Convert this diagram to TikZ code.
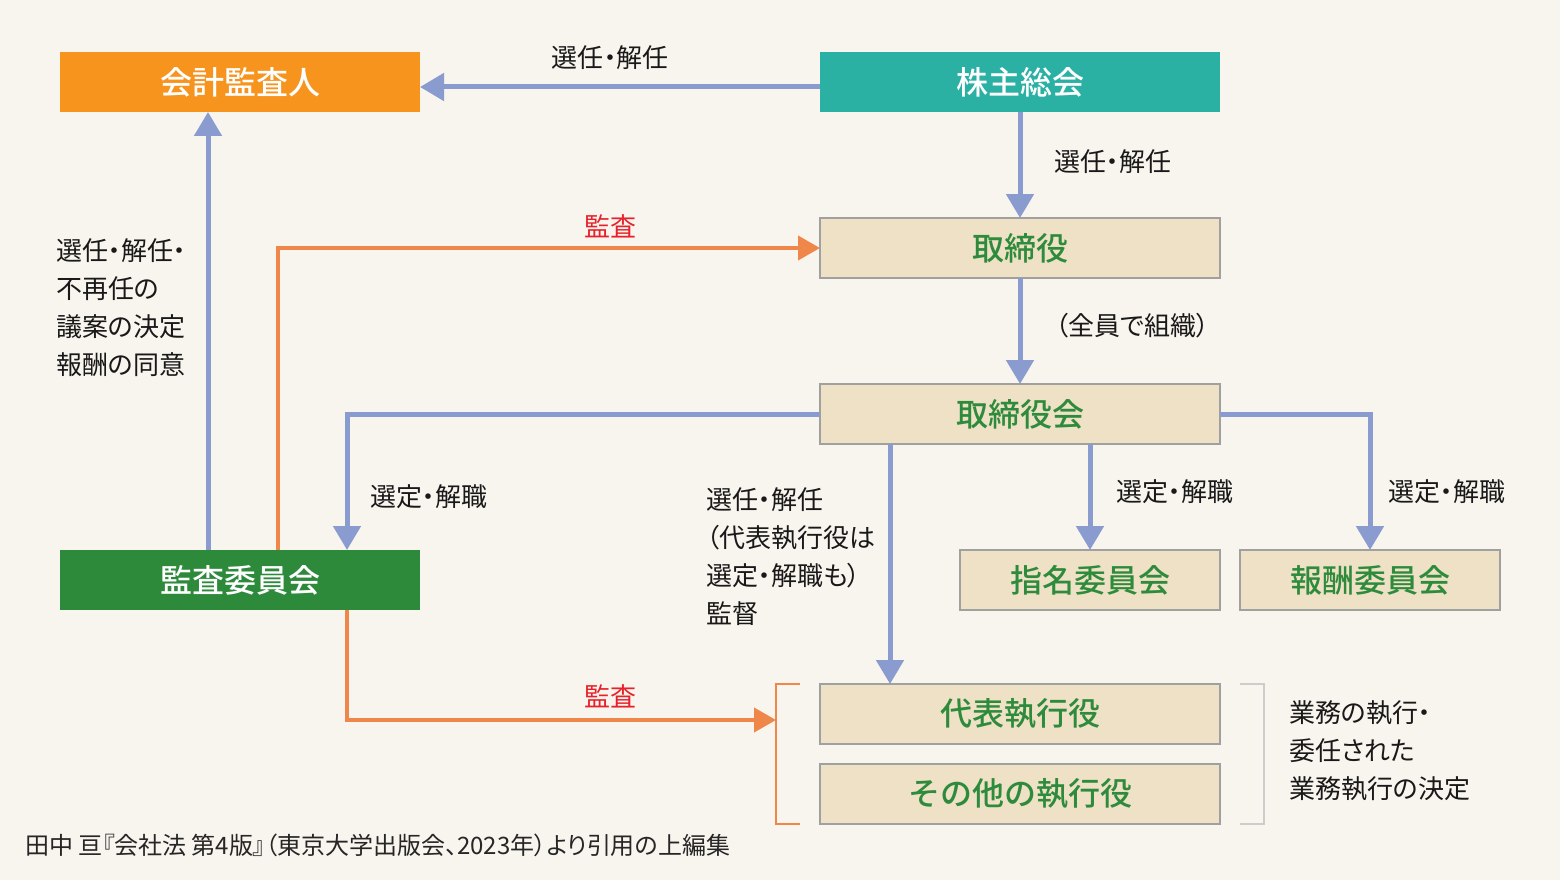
\documentclass[tikz,border=0pt]{standalone}
\usepackage{fontspec}
\setmainfont{Noto Sans CJK JP}
\newfontfamily\lblfont{Noto Sans CJK JP}[RawFeature=+palt]
\newfontfamily\boxfont{Noto Sans CJK JP Medium}
\usetikzlibrary{arrows.meta,positioning}
\definecolor{bgcol}{HTML}{F8F4EE}
\definecolor{orangebox}{HTML}{F7941E}
\definecolor{tealbox}{HTML}{2BB0A4}
\definecolor{greenbox}{HTML}{2C8A3A}
\definecolor{beigebox}{HTML}{EFE1C6}
\definecolor{boxline}{HTML}{A0A0A0}
\definecolor{greentext}{HTML}{2E8B3C}
\definecolor{bluearrow}{HTML}{8A9BD0}
\definecolor{orangearrow}{HTML}{F0874A}
\definecolor{redtext}{HTML}{E8202A}
\definecolor{graybracket}{HTML}{CCCCCC}
\tikzset{
    solidbox/.style={minimum height=60pt, inner sep=0pt, outer sep=0pt, text=white,
        font=\boxfont\fontsize{32}{32}\selectfont},
    paperbox/.style={minimum height=60pt, inner sep=0pt, outer sep=0pt, fill=beigebox,
        draw=boxline, line width=2pt, text=greentext,
        font=\boxfont\fontsize{32}{32}\selectfont},
    bluearr/.style={draw=bluearrow, line width=5pt,
        -{Triangle[length=24pt, width=27pt]}},
    orangearr/.style={draw=orangearrow, line width=4pt,
        -{Triangle[length=22pt, width=24pt]}},
    lbl/.style={inner sep=0pt, text=black!90, font=\lblfont\fontsize{26}{38}\selectfont},
    redlbl/.style={inner sep=0pt, text=redtext, font=\lblfont\fontsize{26}{38}\selectfont}
}
\begin{document}
\begin{tikzpicture}[x=1pt, y=-1pt]
    \path[use as bounding box, fill=bgcol] (0,0) rectangle (1560,880);
    \node[solidbox, fill=orangebox, minimum width=360pt] (kaikei) at (240,82) {会計監査人};
    \node[solidbox, fill=tealbox, minimum width=400pt] (kabunushi) at (1020,82) {株主総会};
    \node[paperbox, minimum width=400pt, below = 106pt of kabunushi] (torishimari) {取締役};
    \node[paperbox, minimum width=400pt, below = 106pt of torishimari] (torikai) {取締役会};
    \node[solidbox, fill=greenbox, minimum width=360pt] (kansa) at (240,580) {監査委員会};
    \node[paperbox, minimum width=260pt] (shimei) at (1090,580) {指名委員会};
    \node[paperbox, minimum width=260pt] (hoshu) at (1370,580) {報酬委員会};
    \node[paperbox, minimum width=400pt, below = 240pt of torikai] (daihyo) {代表執行役};
    \node[paperbox, minimum width=400pt, below = 20pt of daihyo] (sonota) {その他の執行役};
    \coordinate (brk) at ([xshift=-44pt, yshift=-6pt]daihyo.west);

    \draw[bluearr] ([yshift=-5pt]kabunushi.west) -- ([yshift=-5pt]kaikei.east);
    \draw[bluearr] (kabunushi) -- (torishimari);
    \draw[bluearr] (torishimari) -- (torikai);
    \draw[bluearr] (torikai.west) -| ([xshift=107pt]kansa.north);
    \draw[bluearr] ([xshift=-130pt]torikai.south) -- ([xshift=-130pt]daihyo.north);
    \draw[bluearr] (shimei.north |- torikai.south) -- (shimei.north);
    \draw[bluearr] (torikai.east) -| (hoshu.north);
    \draw[bluearr] ([xshift=-32pt]kansa.north) -- ([xshift=-32pt]kaikei.south);
    \draw[orangearr] ([xshift=38pt]kansa.north) |- (torishimari.west);
    \draw[orangearr] ([xshift=107pt]kansa.south) |- (brk);
    \draw[orangearrow, line width=2pt] ([xshift=-20pt]daihyo.north west) -- ++(-24,0)
        |- ([xshift=-20pt]sonota.south west);
    \draw[graybracket, line width=2pt] ([xshift=20pt]daihyo.north east) -- ++(24,0)
        |- ([xshift=20pt]sonota.south east);

    \node[lbl] (l1) at (610,58) {選任・解任};
    \node[lbl, anchor=west] (l2) at (1054,162) {選任・解任};
    \node[lbl, anchor=west] (l3) at (1055,326) {（全員で組織）};
    \node[lbl, anchor=west] (l4) at (370,497) {選定・解職};
    \node[lbl, anchor=west] (l5) at (1116,492) {選定・解職};
    \node[lbl, anchor=west] (l6) at (1388,492) {選定・解職};
    \node[lbl, anchor=west, align=left] (l7) at (56,308) {選任・解任・\\不再任の\\議案の決定\\報酬の同意};
    \node[lbl, anchor=west, align=left] (l8) at (706,557) {選任・解任\\（代表執行役は\\選定・解職も）\\監督};
    \node[lbl, anchor=west, align=left] (l9) at (1289,751) {業務の執行・\\委任された\\業務執行の決定};
    \node[redlbl] (m1) at (610,226) {監査};
    \node[redlbl] (m2) at (610,696) {監査};
    \node[inner sep=0pt, anchor=west, text=black!85, font=\lblfont\fontsize{24}{24}\selectfont]
        (src) at (25,845) {田中 亘『会社法 第4版』（東京大学出版会、2023年）より引用の上編集};
\end{tikzpicture}
\end{document}
